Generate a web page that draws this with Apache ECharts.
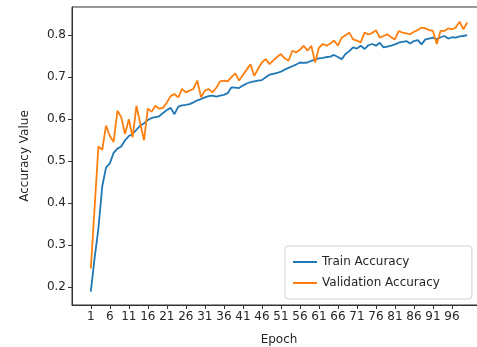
<!DOCTYPE html>
<html>
<head>
<meta charset="utf-8">
<script src="https://cdn.jsdelivr.net/npm/echarts@6/dist/echarts.min.js"></script>
<style>
html,body{margin:0;padding:0;background:#fff;}
#c{width:477px;height:347px;}
</style>
</head>
<body>
<div id="c"></div>
<script>
const epochs = Array.from({length:100},(_,i)=>i+1);
const trainAcc = [
0.19,0.27,0.34,0.44,0.485,0.495,0.52,0.53,0.535,0.55,
0.56,0.565,0.575,0.585,0.59,0.598,0.603,0.605,0.607,0.615,
0.622,0.627,0.612,0.63,0.633,0.634,0.636,0.64,0.645,0.648,
0.652,0.655,0.656,0.654,0.656,0.658,0.662,0.676,0.675,0.674,
0.68,0.685,0.688,0.69,0.692,0.693,0.7,0.706,0.708,0.71,
0.713,0.718,0.722,0.726,0.73,0.735,0.734,0.735,0.739,0.742,
0.745,0.746,0.748,0.749,0.753,0.748,0.743,0.755,0.762,0.771,
0.768,0.775,0.767,0.776,0.779,0.775,0.782,0.771,0.773,0.775,
0.778,0.782,0.784,0.786,0.78,0.786,0.788,0.778,0.79,0.792,
0.794,0.79,0.795,0.798,0.792,0.795,0.794,0.797,0.798,0.8
];
const valAcc = [
0.245,0.39,0.535,0.527,0.585,0.56,0.546,0.62,0.605,0.565,
0.6,0.557,0.632,0.59,0.55,0.625,0.618,0.632,0.625,0.627,
0.64,0.655,0.66,0.652,0.672,0.664,0.668,0.672,0.692,0.652,
0.668,0.672,0.664,0.675,0.69,0.692,0.69,0.7,0.709,0.692,
0.705,0.718,0.731,0.703,0.72,0.735,0.743,0.731,0.74,0.748,
0.755,0.745,0.739,0.763,0.759,0.765,0.775,0.763,0.775,0.735,
0.77,0.779,0.775,0.78,0.787,0.775,0.794,0.8,0.806,0.79,
0.787,0.783,0.806,0.802,0.805,0.812,0.794,0.798,0.802,0.795,
0.79,0.81,0.806,0.804,0.802,0.808,0.812,0.818,0.816,0.812,
0.81,0.779,0.81,0.81,0.816,0.814,0.818,0.832,0.814,0.83
];
const xTicks = [1,6,11,16,21,26,31,36,41,46,51,56,61,66,71,76,81,86,91,96];
const yTicks = [0.2,0.3,0.4,0.5,0.6,0.7,0.8];

const font = 'DejaVu Sans';
const txt = '#262626';
const chart = echarts.init(document.getElementById('c'));
chart.setOption({
  animation:false,
  backgroundColor:'#fff',
  grid:{left:72,top:7,width:414,height:298,show:true,borderColor:'#333',borderWidth:1,backgroundColor:'transparent',
        containLabel:false,outerBoundsMode:'none'},
  legend:{
    left:285, top:246, orient:'vertical',
    backgroundColor:'#fff', borderColor:'#d0d0d0', borderWidth:1, borderRadius:3,
    padding:[10,32,10,8], itemGap:9, itemWidth:24, itemHeight:2, icon:'rect',
    textStyle:{fontFamily:font,fontSize:12,color:txt},
    data:['Train Accuracy','Validation Accuracy']
  },
  xAxis:{
    type:'value', min:-3.95, max:104.95,
    name:'Epoch', nameLocation:'middle', nameGap:29,
    nameTextStyle:{fontFamily:font,fontSize:12,color:txt},
    axisLine:{show:true,onZero:false,lineStyle:{color:'#333'}},
    axisTick:{show:true,customValues:xTicks,length:4,lineStyle:{color:'#333'}},
    axisLabel:{customValues:xTicks,fontFamily:font,fontSize:12,color:txt,margin:6},
    splitLine:{show:false}
  },
  yAxis:{
    type:'value', min:0.158, max:0.867,
    name:'Accuracy Value', nameLocation:'middle', nameGap:41, nameRotate:90,
    nameTextStyle:{fontFamily:font,fontSize:12,color:txt},
    axisLine:{show:true,onZero:false,lineStyle:{color:'#333'}},
    axisTick:{show:true,customValues:yTicks,length:4,lineStyle:{color:'#333'}},
    axisLabel:{customValues:yTicks,fontFamily:font,fontSize:12,color:txt,margin:6,formatter:v=>v.toFixed(1)},
    splitLine:{show:false}
  },
  series:[
    {name:'Train Accuracy',type:'line',data:epochs.map((e,i)=>[e,trainAcc[i]]),symbol:'none',
     lineStyle:{color:'#1f77b4',width:1.8},itemStyle:{color:'#1f77b4'}},
    {name:'Validation Accuracy',type:'line',data:epochs.map((e,i)=>[e,valAcc[i]]),symbol:'none',
     lineStyle:{color:'#ff7f0e',width:1.8},itemStyle:{color:'#ff7f0e'}}
  ]
});
</script>
</body>
</html>
